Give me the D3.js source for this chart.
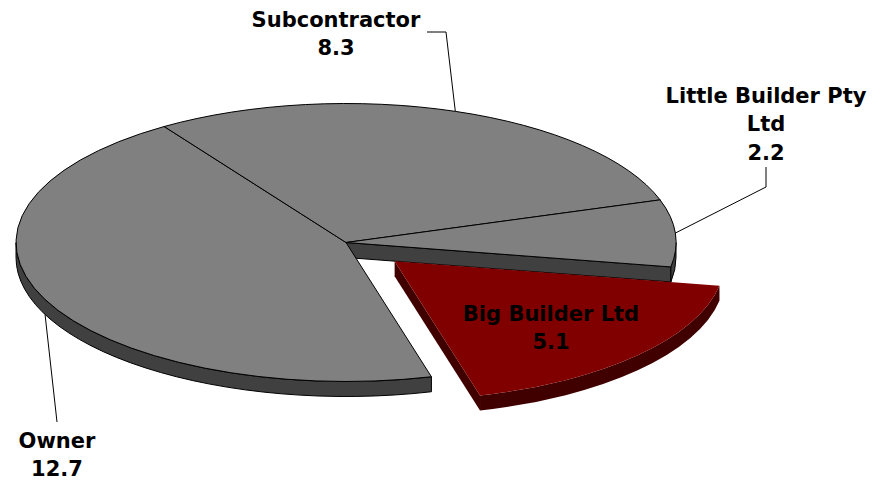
<!DOCTYPE html>
<html>
<head>
<meta charset="utf-8">
<script src="https://cdn.jsdelivr.net/npm/d3@7"></script>
<style>
  body { margin: 0; background: #fff; }
  svg { display: block; }
  .lbl { font-family: Verdana, "DejaVu Sans", sans-serif; font-weight: bold; font-size: 21px; fill: #000; }
</style>
</head>
<body>
<div id="chart"></div>
<script>
// data
var categories = ["Owner", "Subcontractor", "Little Builder Pty Ltd", "Big Builder Ltd"];
var values = [12.7, 8.3, 2.2, 5.1];
var labelLines = [["Owner"], ["Subcontractor"], ["Little Builder Pty", "Ltd"], ["Big Builder Ltd"]];
var exploded = [false, false, false, true];

// label placement (text position, leader elbow points)
var labelLayout = [
  { x: 57, y: 448, leader: [[57, 422]] },
  { x: 336, y: 27, leader: [[427, 32], [446, 32]] },
  { x: 766, y: 103, leader: [[766, 167], [766, 187]] },
  { x: 551, y: 321, leader: null }
];

var width = 886, height = 482;
var cx = 346, cy = 242.5, rx = 330, ry = 139, depth = 15, explode = 0.2;

var grayTop = "#808080", graySide = "#404040";
var redTop = "#800000", redSide = "#400000";

var svg = d3.select("#chart")
  .append("svg")
  .attr("width", width)
  .attr("height", height);

var data = categories.map(function (c, i) {
  return { name: c, value: values[i], lines: labelLines[i], exploded: exploded[i], layout: labelLayout[i] };
});

var start = 165 * Math.PI / 180;
var pie = d3.pie().sort(null).value(function (d) { return d.value; })
  .startAngle(start).endAngle(start + 2 * Math.PI);
var arcs = pie(data);

// pie angle (clockwise from 12 o'clock) -> ellipse parameter (clockwise from 3 o'clock)
function T(a) { return a - Math.PI / 2; }

function offsetOf(d) {
  if (!d.data.exploded) return [0, 0];
  var m = T((d.startAngle + d.endAngle) / 2);
  return [explode * rx * Math.cos(m), explode * ry * Math.sin(m)];
}

function pt(t, z, off) {
  return [cx + off[0] + rx * Math.cos(t), cy + off[1] + ry * Math.sin(t) + z];
}

function P(p) { return p[0].toFixed(2) + "," + p[1].toFixed(2); }

function topPath(d) {
  var off = offsetOf(d), a = T(d.startAngle), b = T(d.endAngle);
  var large = (b - a) > Math.PI ? 1 : 0;
  return "M" + P([cx + off[0], cy + off[1]]) + "L" + P(pt(a, 0, off)) +
    "A" + rx + "," + ry + " 0 " + large + " 1 " + P(pt(b, 0, off)) + "Z";
}

function wallPaths(d) {
  var off = offsetOf(d), a = T(d.startAngle), b = T(d.endAngle);
  var shift = Math.floor(a / (2 * Math.PI)) * 2 * Math.PI;
  var a0 = a - shift, b0 = b - shift, out = [];
  [[0, Math.PI], [2 * Math.PI, 3 * Math.PI]].forEach(function (r) {
    var lo = Math.max(a0, r[0]), hi = Math.min(b0, r[1]);
    if (hi - lo > 1e-4) {
      out.push("M" + P(pt(lo, 0, off)) +
        "A" + rx + "," + ry + " 0 0 1 " + P(pt(hi, 0, off)) +
        "L" + P(pt(hi, depth, off)) +
        "A" + rx + "," + ry + " 0 0 0 " + P(pt(lo, depth, off)) + "Z");
    }
  });
  return out;
}

function radialPaths(d) {
  var off = offsetOf(d), a = T(d.startAngle), b = T(d.endAngle), out = [];
  var c0 = [cx + off[0], cy + off[1]], c1 = [cx + off[0], cy + off[1] + depth];
  [[a, Math.cos(a) < 0], [b, Math.cos(b) > 0]].forEach(function (f) {
    if (f[1]) {
      out.push("M" + P(c0) + "L" + P(pt(f[0], 0, off)) + "L" + P(pt(f[0], depth, off)) + "L" + P(c1) + "Z");
    }
  });
  return out;
}

function drawSides(g, d) {
  var side = d.data.exploded ? redSide : graySide;
  var stroke = d.data.exploded ? "none" : "#000";
  radialPaths(d).concat(wallPaths(d)).forEach(function (p) {
    g.append("path").attr("d", p)
      .attr("fill", side).attr("stroke", stroke).attr("stroke-width", 1)
      .attr("stroke-linejoin", "round");
  });
}

function drawTop(g, d) {
  g.append("path").attr("d", topPath(d))
    .attr("fill", d.data.exploded ? redTop : grayTop)
    .attr("stroke", d.data.exploded ? "none" : "#000")
    .attr("stroke-width", 1)
    .attr("stroke-linejoin", "round");
}

var pieG = svg.append("g").attr("class", "pie");
var flat = arcs.filter(function (d) { return !d.data.exploded; });
var pulled = arcs.filter(function (d) { return d.data.exploded; });

flat.forEach(function (d) { drawSides(pieG, d); });
flat.forEach(function (d) { drawTop(pieG, d); });
pulled.forEach(function (d) { drawSides(pieG, d); drawTop(pieG, d); });

// leader lines
var fmt = d3.format(".1f");
arcs.forEach(function (d) {
  var L = d.data.layout;
  if (!L.leader) return;
  var m = T((d.startAngle + d.endAngle) / 2);
  var anchor = pt(m, Math.sin(m) > 0 ? depth : 0, offsetOf(d));
  var pts = L.leader.concat([anchor]);
  svg.append("path")
    .attr("d", d3.line()(pts))
    .attr("fill", "none")
    .attr("stroke", "#000")
    .attr("stroke-width", 1);
});

// labels
arcs.forEach(function (d) {
  var L = d.data.layout;
  var lines = d.data.lines.concat([fmt(d.data.value)]);
  var t = svg.append("text")
    .attr("class", "lbl")
    .attr("text-anchor", "middle")
    .attr("x", L.x)
    .attr("y", L.y);
  lines.forEach(function (s, i) {
    t.append("tspan")
      .attr("x", L.x)
      .attr("dy", i === 0 ? 0 : 28.3)
      .text(s);
  });
});
</script>
</body>
</html>
